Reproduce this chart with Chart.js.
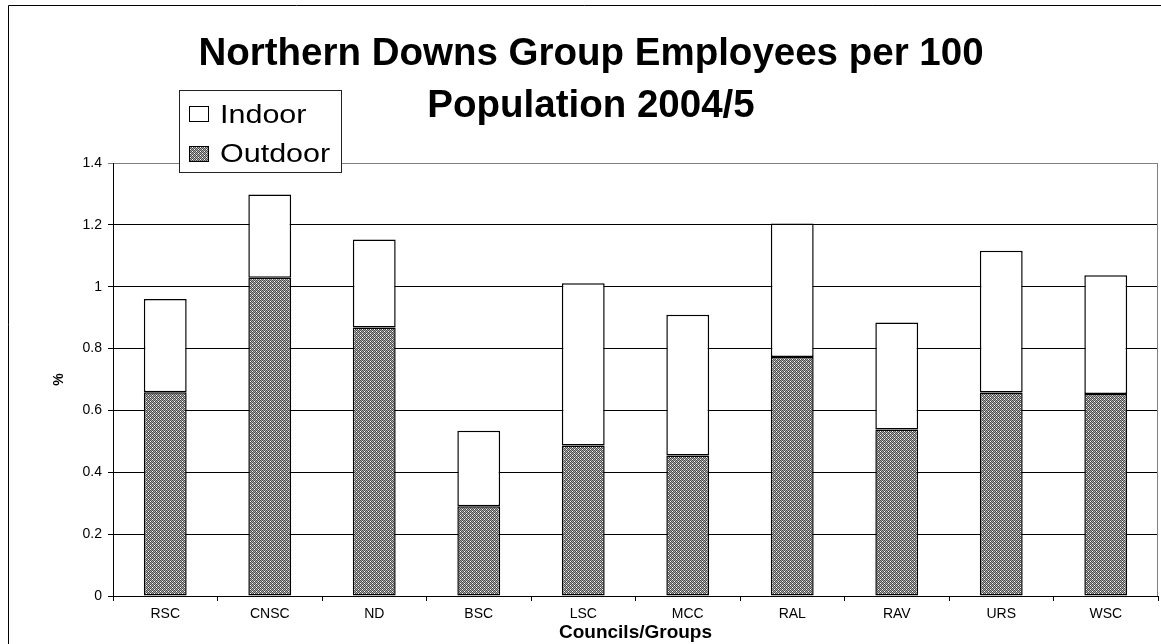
<!DOCTYPE html>
<html>
<head>
<meta charset="utf-8">
<script src="https://cdn.jsdelivr.net/npm/chart.js@4.4.0/dist/chart.umd.min.js"></script>
<style>
  html, body { margin: 0; padding: 0; background: #fff; }
  #wrap { width: 1161px; height: 644px; }
</style>
</head>
<body>
<div id="wrap"><canvas id="c" width="1161" height="644"></canvas></div>
<script>
// Employees per 100 population, 2004/5, by council / group
const categories = ['RSC', 'CNSC', 'ND', 'BSC', 'LSC', 'MCC', 'RAL', 'RAV', 'URS', 'WSC'];
const outdoor = [0.659, 1.029, 0.868, 0.29, 0.487, 0.454, 0.773, 0.538, 0.658, 0.653];
const indoor  = [0.301, 0.269, 0.285, 0.244, 0.524, 0.455, 0.431, 0.346, 0.458, 0.384];
const yTickLabels = ['0', '0.2', '0.4', '0.6', '0.8', '1', '1.2', '1.4'];
const titleLines = ['Northern Downs Group Employees per 100', 'Population 2004/5'];
const legendNames = ['Indoor', 'Outdoor'];

const FONT = '"Liberation Sans", Arial, sans-serif';
const canvas = document.getElementById('c');
const ctx = canvas.getContext('2d');

// Small grey checker tile used as the "Outdoor" fill
function makeHatch() {
  const t = document.createElement('canvas');
  t.width = 4; t.height = 4;
  const g = t.getContext('2d');
  const D = '#4c4c4c', L = '#a8a8a8', W = '#ffffff';
  const tile = [
    [D, L, D, L],
    [L, D, W, D],
    [D, L, D, L],
    [W, D, L, D]
  ];
  for (let y = 0; y < 4; y++) {
    for (let x = 0; x < 4; x++) {
      g.fillStyle = tile[y][x];
      g.fillRect(x, y, 1, 1);
    }
  }
  return ctx.createPattern(t, 'repeat');
}
const hatch = makeHatch();

// Title, legend box and frame lines
const decorations = {
  id: 'decorations',
  afterDraw(chart) {
    const c = chart.ctx;
    const area = chart.chartArea;
    c.save();

    // outer frame (left and top edges)
    c.strokeStyle = '#000';
    c.lineWidth = 1;
    c.beginPath();
    c.moveTo(8.5, 644);
    c.lineTo(8.5, 5.5);
    c.lineTo(1161, 5.5);
    c.stroke();

    // plot area right edge
    c.strokeStyle = '#808080';
    c.beginPath();
    c.moveTo(Math.round(area.right) - 0.5, area.top);
    c.lineTo(Math.round(area.right) - 0.5, area.bottom);
    c.stroke();

    // title
    c.fillStyle = '#000';
    c.font = 'bold 38.5px ' + FONT;
    c.textAlign = 'center';
    c.textBaseline = 'alphabetic';
    c.fillText(titleLines[0], 591, 65);
    c.fillText(titleLines[1], 591, 117);

    // legend
    c.fillStyle = '#fff';
    c.fillRect(179, 90, 163, 83);
    c.strokeStyle = '#222';
    c.strokeRect(179.5, 90.5, 162, 82);

    c.fillStyle = '#fff';
    c.fillRect(189, 106, 20, 16);
    c.strokeStyle = '#000';
    c.strokeRect(189.5, 106.5, 19, 15);

    c.fillStyle = hatch;
    c.fillRect(189, 146, 20, 16);
    c.strokeRect(189.5, 146.5, 19, 15);

    c.fillStyle = '#000';
    c.font = '25px ' + FONT;
    c.textAlign = 'left';
    c.save();
    c.translate(220, 123);
    c.scale(1.22, 1);
    c.fillText(legendNames[0], 0, 0);
    c.restore();
    c.save();
    c.translate(220, 162);
    c.scale(1.22, 1);
    c.fillText(legendNames[1], 0, 0);
    c.restore();

    c.restore();
  }
};

new Chart(ctx, {
  type: 'bar',
  data: {
    labels: categories,
    datasets: [
      {
        label: legendNames[1],
        data: outdoor,
        backgroundColor: hatch,
        borderColor: '#000',
        borderWidth: 1.5,
        borderSkipped: false,
        stack: 'staff'
      },
      {
        label: legendNames[0],
        data: indoor,
        backgroundColor: '#ffffff',
        borderColor: '#000',
        borderWidth: 1.5,
        borderSkipped: false,
        stack: 'staff'
      }
    ]
  },
  options: {
    responsive: false,
    animation: false,
    devicePixelRatio: 1,
    layout: { padding: { top: 163, left: 0, right: 3, bottom: 0 } },
    datasets: { bar: { categoryPercentage: 1, barPercentage: 0.41 } },
    plugins: {
      legend: { display: false },
      tooltip: { enabled: false },
      title: { display: false }
    },
    scales: {
      x: {
        stacked: true,
        offset: true,
        grid: {
          display: true,
          drawOnChartArea: false,
          drawTicks: true,
          tickLength: 5,
          offset: true,
          color: '#000'
        },
        border: { display: true, color: '#000', width: 1 },
        ticks: {
          color: '#000',
          font: { family: FONT, size: 14 },
          padding: 5,
          maxRotation: 0,
          autoSkip: false
        },
        title: {
          display: true,
          text: 'Councils/Groups',
          color: '#000',
          font: { family: FONT, size: 19, weight: 'bold' },
          padding: { top: 4, bottom: 0 }
        },
        afterFit(s) { s.height = 48; }
      },
      y: {
        stacked: true,
        min: 0,
        max: 1.4,
        ticks: {
          stepSize: 0.2,
          color: '#000',
          font: { family: FONT, size: 14 },
          padding: 6,
          callback: (v, i) => yTickLabels[i]
        },
        grid: {
          color: (c) => (c.tick && c.tick.value > 1.39 ? '#808080' : '#000'),
          lineWidth: 1,
          tickLength: 5
        },
        border: { display: true, color: '#000', width: 1 },
        title: {
          display: true,
          text: '%',
          color: '#000',
          font: { family: FONT, size: 14, weight: 'bold' },
          padding: { top: 51, bottom: 0 }
        },
        afterFit(s) { s.width = 113; }
      }
    }
  },
  plugins: [decorations]
});
</script>
</body>
</html>
